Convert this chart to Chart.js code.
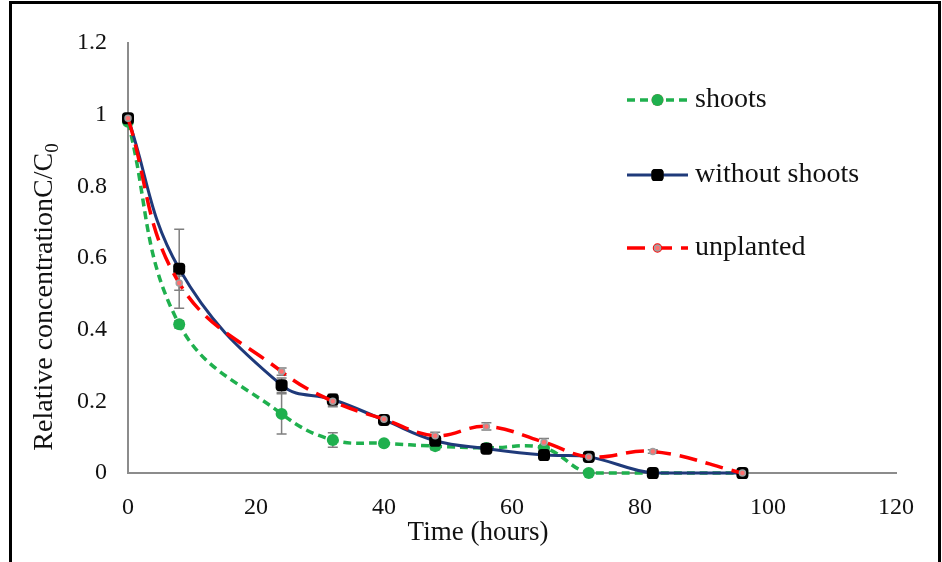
<!DOCTYPE html>
<html>
<head>
<meta charset="utf-8">
<title>Relative concentration over time</title>
<script src="https://cdn.jsdelivr.net/npm/chart.js@4"></script>
<style>
    body { margin: 0; background: #fff; }
    #wrap { width: 942px; height: 562px; }
</style>
</head>
<body>
<div id="wrap"><canvas id="concChart" width="942" height="562"></canvas></div>
<script>
// Sampling times (hours)
const hours = [0, 8, 24, 32, 40, 48, 56, 65, 72, 82, 96];

// Relative concentration C/C0 for each treatment
const shoots = [0.98, 0.415, 0.165, 0.092, 0.083, 0.075, 0.07, 0.07, 0, 0, 0];
const withoutShoots = [0.99, 0.57, 0.245, 0.205, 0.148, 0.09, 0.068, 0.05, 0.045, 0, 0];
const unplanted = [0.99, 0.53, 0.283, 0.2, 0.15, 0.104, 0.13, 0.086, 0.045, 0.06, 0];

// Standard errors
const shootsErr = [0, 0.01, 0.056, 0.02, 0.005, 0.01, 0, 0, 0, 0, 0];
const withoutShootsErr = [0, 0.11, 0.02, 0.015, 0.01, 0.01, 0.005, 0.005, 0.005, 0, 0];
const unplantedErr = [0, 0.02, 0.01, 0.015, 0.01, 0.01, 0.01, 0.01, 0.005, 0.005, 0];

const yTicks = [0, 0.2, 0.4, 0.6, 0.8, 1, 1.2];
const xTicks = [0, 20, 40, 60, 80, 100, 120];

const serif = '"Liberation Serif", "Times New Roman", serif';

const toPoints = ys => hours.map((h, i) => ({ x: h, y: ys[i] }));

// Error bars, drawn under the lines
const errorBars = {
    id: 'errorBars',
    beforeDatasetsDraw(chart) {
        const { ctx, scales: { x, y } } = chart;
        ctx.save();
        ctx.strokeStyle = '#7f7f7f';
        ctx.lineWidth = 1.5;
        chart.data.datasets.forEach(ds => {
            ds.data.forEach((p, i) => {
                const e = ds.errors[i];
                if (!e) return;
                const px = x.getPixelForValue(p.x);
                const top = y.getPixelForValue(p.y + e);
                const bot = y.getPixelForValue(Math.max(p.y - e, 0));
                ctx.beginPath();
                ctx.moveTo(px, top); ctx.lineTo(px, bot);
                ctx.moveTo(px - 5, top); ctx.lineTo(px + 5, top);
                ctx.moveTo(px - 5, bot); ctx.lineTo(px + 5, bot);
                ctx.stroke();
            });
        });
        ctx.restore();
    }
};

// Legend inside the plot, axis titles and the outer frame
const decorations = {
    id: 'decorations',
    afterDraw(chart) {
        const { ctx } = chart;
        ctx.save();

        // legend
        const lx = 627, lw = 61;
        const rows = [100, 175, 248];
        chart.data.datasets.forEach((ds, i) => {
            const ly = rows[i];
            ctx.strokeStyle = ds.borderColor;
            ctx.lineWidth = ds.borderWidth;
            ctx.setLineDash(ds.borderDash || []);
            ctx.beginPath();
            ctx.moveTo(lx, ly); ctx.lineTo(lx + lw, ly);
            ctx.stroke();
            ctx.setLineDash([]);
            Chart.helpers.drawPoint(ctx, {
                pointStyle: ds.pointStyle,
                radius: ds.pointRadius,
                borderWidth: ds.pointBorderWidth
            }, lx + lw / 2, ly);
            ctx.fillStyle = ds.pointBackgroundColor;
            ctx.strokeStyle = ds.pointBorderColor;
            ctx.lineWidth = ds.pointBorderWidth;
            ctx.fill();
            if (ds.pointBorderWidth) ctx.stroke();
            ctx.fillStyle = '#111';
            ctx.font = '28px ' + serif;
            ctx.textBaseline = 'middle';
            ctx.textAlign = 'left';
            ctx.fillText(ds.label, lx + lw + 7, ly);
        });

        // x axis title
        ctx.fillStyle = '#111';
        ctx.font = '27px ' + serif;
        ctx.textAlign = 'center';
        ctx.textBaseline = 'middle';
        ctx.fillText('Time (hours)', 478, 533);

        // y axis title with subscript
        const main = 'Relative concentrationC/C';
        ctx.font = '28px ' + serif;
        const wMain = ctx.measureText(main).width;
        ctx.font = '19px ' + serif;
        const wSub = ctx.measureText('0').width;
        ctx.translate(45, 297);
        ctx.rotate(-Math.PI / 2);
        ctx.textAlign = 'left';
        ctx.textBaseline = 'middle';
        const start = -(wMain + wSub) / 2;
        ctx.font = '28px ' + serif;
        ctx.fillText(main, start, 0);
        ctx.font = '19px ' + serif;
        ctx.fillText('0', start + wMain, 8);
        ctx.setTransform(1, 0, 0, 1, 0, 0);

        // frame
        ctx.strokeStyle = '#000';
        ctx.lineWidth = 3;
        ctx.beginPath();
        ctx.moveTo(10.5, 562); ctx.lineTo(10.5, 2.5);
        ctx.lineTo(939.5, 2.5); ctx.lineTo(939.5, 562);
        ctx.stroke();
        ctx.restore();
    }
};

const ctx = document.getElementById('concChart').getContext('2d');
const concChart = new Chart(ctx, {
    type: 'line',
    data: {
        datasets: [
            {
                label: 'shoots',
                data: toPoints(shoots),
                errors: shootsErr,
                borderColor: '#1fb04e',
                borderWidth: 3.5,
                borderDash: [8, 5],
                pointStyle: 'circle',
                pointRadius: 6,
                pointBackgroundColor: '#1fb04e',
                pointBorderColor: '#1fb04e',
                pointBorderWidth: 0,
                tension: 0.4,
                order: 3
            },
            {
                label: 'without shoots',
                data: toPoints(withoutShoots),
                errors: withoutShootsErr,
                borderColor: '#1f3a7a',
                borderWidth: 3,
                pointStyle: 'rectRounded',
                pointRadius: 7,
                pointBackgroundColor: '#000',
                pointBorderColor: '#000',
                pointBorderWidth: 0,
                tension: 0.4,
                order: 2
            },
            {
                label: 'unplanted',
                data: toPoints(unplanted),
                errors: unplantedErr,
                borderColor: '#ff0000',
                borderWidth: 3.5,
                borderDash: [18, 9],
                pointStyle: 'circle',
                pointRadius: 3,
                pointBackgroundColor: '#ff7070',
                pointBorderColor: '#a0a0a0',
                pointBorderWidth: 1.5,
                tension: 0.4,
                order: 1
            }
        ]
    },
    options: {
        responsive: false,
        animation: false,
        clip: false,
        layout: { padding: { top: 43, right: 46, left: 0, bottom: 0 } },
        plugins: {
            legend: { display: false },
            tooltip: { enabled: false }
        },
        scales: {
            x: {
                type: 'linear',
                min: 0,
                max: 120,
                afterFit: s => { s.height = 89; },
                afterBuildTicks: s => { s.ticks = xTicks.map(v => ({ value: v })); },
                grid: { display: false },
                border: { display: true, color: '#8c8c8c', width: 2 },
                ticks: { color: '#111', font: { family: serif, size: 24 }, padding: 12 }
            },
            y: {
                min: 0,
                max: 1.2,
                afterFit: s => { s.width = 128; },
                afterBuildTicks: s => { s.ticks = yTicks.map(v => ({ value: v })); },
                grid: { display: false },
                border: { display: true, color: '#8c8c8c', width: 2 },
                ticks: {
                    color: '#111',
                    font: { family: serif, size: 24 },
                    padding: 13,
                    callback: v => String(+v.toFixed(1))
                }
            }
        }
    },
    plugins: [errorBars, decorations]
});
</script>
</body>
</html>
